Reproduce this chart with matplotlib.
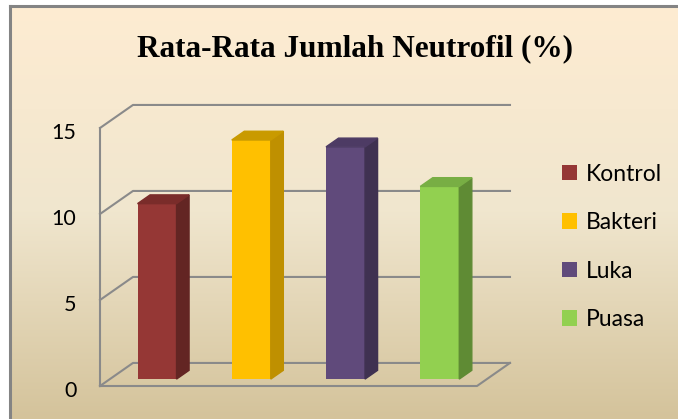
import matplotlib.pyplot as plt
import numpy as np
from matplotlib.patches import Polygon
from matplotlib.transforms import ScaledTranslation

categories = ["Kontrol", "Bakteri", "Luka", "Puasa"]
values = [10.2, 13.9, 13.5, 11.2]
y_ticks = [0, 5, 10, 15]
title = "Rata-Rata Jumlah Neutrofil (%)"

front_colors = ["#953735", "#FFC000", "#604A7B", "#92D050"]
side_colors = ["#632523", "#BF9000", "#3F3151", "#5F8B34"]
top_colors = ["#7A2C2A", "#C99A00", "#4D3B64", "#78AE44"]

W, H = 678, 419
fig = plt.figure(figsize=(W / 100, H / 100), dpi=100, facecolor="white")

# chart area background with vertical gradient and grey frame
bg = fig.add_axes([10 / W, 0, 1 - 10 / W, (H - 6) / H], zorder=0)
top_rgb = np.array([254, 236, 210]) / 255
mid_rgb = np.array([240, 230, 206]) / 255
bot_rgb = np.array([212, 195, 155]) / 255
t = np.linspace(0, 1, 256)[:, None]
grad = np.where(t < 0.5, top_rgb + (mid_rgb - top_rgb) * (t / 0.5),
                mid_rgb + (bot_rgb - mid_rgb) * ((t - 0.5) / 0.5))
bg.imshow(grad[:, None, :], aspect="auto", extent=[0, 1, 0, 1])
bg.set_xticks([])
bg.set_yticks([])
for side in ["right", "bottom"]:
    bg.spines[side].set_visible(False)
for side in ["left", "top"]:
    bg.spines[side].set_color("#848484")
    bg.spines[side].set_linewidth(2.2)

# front plane of the 3D box
ax = fig.add_axes([100 / W, (H - 386) / H, 377 / W, 258 / H], zorder=1)
ax.patch.set_visible(False)
n = len(categories)
ax.set_xlim(-0.5, n - 0.5)
ax.set_ylim(0, 15)
for s in ax.spines.values():
    s.set_visible(False)
ax.set_xticks([])
ax.set_yticks(y_ticks)
ax.tick_params(axis="y", length=0, pad=17, labelsize=15.5)
shift = ScaledTranslation(0, -3 / 100, fig.dpi_scale_trans)
for lab in ax.get_yticklabels():
    lab.set_fontfamily("Lato")
    lab.set_transform(lab.get_transform() + shift)

DX, DY = 0.35, 1.34          # full depth of the box, in data units
grid_c = "#8A8A8A"
x0, x1 = -0.5, n - 0.5

# floor and walls
ax.plot([x0, x1, x1 + DX], [0, 0, DY], color=grid_c, lw=1.5, clip_on=False)
ax.plot([x0, x0], [0, 15], color=grid_c, lw=1.5, clip_on=False)
for v in y_ticks:
    ax.plot([x0, x0 + DX, x1 + DX], [v, v + DY, v + DY],
            color=grid_c, lw=1.5, clip_on=False)

# bars placed in the middle of the depth
d0, d1 = 0.3, 0.68
ox, oy = DX * d0, DY * d0
bx, by = DX * (d1 - d0), DY * (d1 - d0)
width = 0.414
xs = np.arange(n) + ox
for i, (x, v) in enumerate(zip(xs, values)):
    ax.bar(x, v, width=width, bottom=oy, color=front_colors[i],
           label=categories[i], zorder=3, clip_on=False)
    r, l = x + width / 2, x - width / 2
    top = oy + v
    ax.add_patch(Polygon([[r, oy], [r + bx, oy + by], [r + bx, top + by], [r, top]],
                         closed=True, color=side_colors[i], zorder=3, clip_on=False))
    ax.add_patch(Polygon([[l, top], [r, top], [r + bx, top + by], [l + bx, top + by]],
                         closed=True, color=top_colors[i], zorder=3, clip_on=False))

fig.text(355 / W, 1 - 49 / H, title, ha="center", va="center",
         fontfamily="Liberation Serif", fontweight="bold", fontsize=22.5)

leg = fig.legend(loc="upper left", bbox_to_anchor=(541 / W, 1 - 143 / H),
                 frameon=False, prop={"family": "Lato", "size": 16.5},
                 handlelength=0.65, handleheight=0.65, handletextpad=0.4,
                 labelspacing=1.2)

fig.savefig("out.png", dpi=100)
